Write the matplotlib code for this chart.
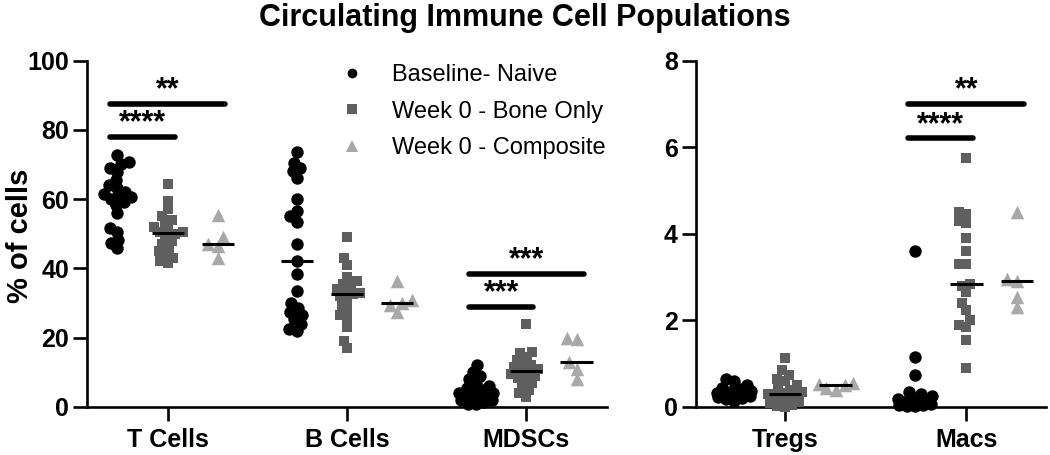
import matplotlib.pyplot as plt
from matplotlib.lines import Line2D
import numpy as np

plt.rcParams['font.family'] = ['Liberation Sans', 'DejaVu Sans']

# groups
groups = ['Baseline- Naive', 'Week 0 - Bone Only', 'Week 0 - Composite']
colors = ['black', '#5f5f5f', '#a8a8a8']
markers = ['o', 's', '^']
msizes = [80, 55, 95]
gap_px = [8, 7.5, 10]
offsets = [-0.28, 0.0, 0.28]

left_cats = ['T Cells', 'B Cells', 'MDSCs']
right_cats = ['Tregs', 'Macs']

# % of cells
tcells_naive = [72.7, 70.8, 70.0, 69.1, 67.9, 65.6, 64.1, 63.3, 62.0, 61.5, 61.0, 60.5,
                60.0, 59.2, 58.3, 56.0, 51.6, 50.4, 48.1, 47.2, 45.8]
tcells_bone = [64.5, 59.5, 57.0, 55.0, 54.0, 53.0, 52.0, 51.0, 50.5, 50.5, 50.0, 49.0,
               48.0, 47.0, 46.0, 45.0, 44.0, 43.0, 42.0, 41.5]
tcells_comp = [55.5, 49.0, 47.0, 46.5, 43.0]

bcells_naive = [73.5, 70.5, 69.0, 68.0, 66.0, 60.0, 56.5, 55.0, 53.5, 47.0, 42.0, 38.5,
                33.5, 30.0, 28.5, 27.5, 26.5, 25.5, 24.0, 22.5, 22.0]
bcells_bone = [49.0, 43.0, 41.0, 37.5, 36.5, 35.5, 35.0, 34.0, 33.5, 33.0, 32.5, 32.0,
               31.0, 29.5, 28.0, 26.5, 25.5, 23.0, 19.0, 17.0]
bcells_comp = [36.5, 31.0, 30.0, 29.5, 27.5]

mdsc_naive = [12.0, 10.0, 9.0, 8.0, 7.0, 6.0, 5.5, 5.0, 4.5, 4.0, 4.0, 3.5, 3.0, 3.0,
              2.5, 2.0, 2.0, 1.5, 1.0, 1.0]
mdsc_bone = [24.0, 16.0, 15.5, 14.5, 13.5, 12.5, 12.0, 11.5, 11.0, 10.5, 10.0, 9.5, 9.0,
             8.5, 8.0, 7.0, 6.0, 5.0, 4.0, 3.0]
mdsc_comp = [20.0, 19.5, 13.0, 11.0, 8.0]

tregs_naive = [0.65, 0.6, 0.5, 0.45, 0.42, 0.4, 0.38, 0.35, 0.33, 0.32, 0.3, 0.3, 0.28,
               0.25, 0.22, 0.2, 0.18, 0.15]
tregs_bone = [1.12, 0.85, 0.75, 0.65, 0.6, 0.5, 0.45, 0.4, 0.35, 0.32, 0.3, 0.28, 0.25,
              0.2, 0.15, 0.12, 0.1, 0.05, 0.02, 0.0]
tregs_comp = [0.55, 0.52, 0.5, 0.45, 0.4]

macs_naive = [3.6, 1.15, 0.75, 0.35, 0.3, 0.25, 0.2, 0.18, 0.15, 0.12, 0.1, 0.08, 0.06,
              0.05, 0.04, 0.03, 0.02]
macs_bone = [5.75, 4.5, 4.45, 4.3, 4.25, 3.9, 3.6, 3.3, 3.3, 2.85, 2.8, 2.65, 2.4, 2.25,
             2.0, 1.9, 1.85, 1.55, 0.9]
macs_comp = [4.5, 2.95, 2.9, 2.55, 2.3]

left_data = [[tcells_naive, tcells_bone, tcells_comp],
             [bcells_naive, bcells_bone, bcells_comp],
             [mdsc_naive, mdsc_bone, mdsc_comp]]
right_data = [[tregs_naive, tregs_bone, tregs_comp],
              [macs_naive, macs_bone, macs_comp]]

# significance: (category, group a, group b, height, label)
left_sig = [(0, 0, 1, 78.0, '****'), (0, 0, 2, 87.5, '**'),
            (2, 0, 1, 29.0, '***'), (2, 0, 2, 38.5, '***')]
right_sig = [(1, 0, 1, 6.2, '****'), (1, 0, 2, 7.0, '**')]

W, H = 1050, 455
fig = plt.figure(figsize=(W / 100, H / 100), dpi=100)
ax1 = fig.add_axes([87 / W, 1 - 407 / H, 520 / W, 346.5 / H])
ax2 = fig.add_axes([696 / W, 1 - 407 / H, 350 / W, 346.5 / H])


def swarm(vals, px_x, px_y, diam, maxw=17):
    # bounded beeswarm: points may overlap once the half-width limit is reached
    vals = np.asarray(vals, float)
    grid = np.arange(-maxw, maxw + 0.25, 0.5)
    grid = grid[np.argsort(np.abs(grid), kind='stable')]
    offs = np.zeros(len(vals))
    placed = []
    for i in np.argsort(vals):
        y = vals[i] * px_y
        if placed:
            P = np.array(placed)
            d = np.sqrt((grid[:, None] - P[:, 0]) ** 2 + (y - P[:, 1]) ** 2).min(axis=1)
            ok = d >= diam
            c = grid[ok][0] if ok.any() else grid[np.argmax(d)]
        else:
            c = 0.0
        offs[i] = c
        placed.append((c, y))
    return offs / px_x


def draw_panel(ax, cats, data, sig, ylim, yticks, xlim):
    ax.set_xlim(*xlim)
    ax.set_ylim(*ylim)
    pos = ax.get_position()
    px_x = pos.width * W / (xlim[1] - xlim[0])
    px_y = pos.height * H / (ylim[1] - ylim[0])
    for ci, cat_vals in enumerate(data):
        for gi, vals in enumerate(cat_vals):
            xc = ci + offsets[gi]
            xs = xc + swarm(vals, px_x, px_y, gap_px[gi])
            ax.scatter(xs, vals, s=msizes[gi], marker=markers[gi], color=colors[gi],
                       linewidths=0, clip_on=False, zorder=3)
            ax.hlines(np.median(vals), xc - 0.09, xc + 0.09, color='black', lw=2.2, zorder=4)
    for ci, ga, gb, yv, lab in sig:
        x0 = ci + offsets[ga] - 0.04
        x1 = ci + offsets[gb] + 0.04
        ax.plot([x0, x1], [yv, yv], color='black', lw=4, solid_capstyle='round',
                clip_on=False)
        ax.annotate(lab, ((x0 + x1) / 2, yv), xytext=(0, -1), textcoords='offset points',
                    ha='center', va='bottom', fontsize=22, fontweight='bold',
                    annotation_clip=False)
    ax.set_xticks(range(len(cats)))
    ax.set_xticklabels(cats, fontsize=18, fontweight='bold')
    ax.set_yticks(yticks)
    ax.set_yticklabels([str(t) for t in yticks], fontsize=18, fontweight='bold')
    for s in ['top', 'right']:
        ax.spines[s].set_visible(False)
    for s in ['left', 'bottom']:
        ax.spines[s].set_linewidth(1.9)
    ax.tick_params(axis='both', length=10, width=1.9, pad=3)
    ax.tick_params(axis='x', pad=5)


draw_panel(ax1, left_cats, left_data, left_sig, (0, 100), [0, 20, 40, 60, 80, 100],
           (-0.45, 2.45))
draw_panel(ax2, right_cats, right_data, right_sig, (0, 8), [0, 2, 4, 6, 8],
           (-0.49, 1.44))

fig.text(20 / W, 1 - 236 / H, '% of cells', rotation=90, ha='center', va='center',
         fontsize=21, fontweight='bold')

handles = [Line2D([], [], linestyle='none', marker=markers[i], color=colors[i],
                  markersize=[7, 7, 8][i], markeredgewidth=0) for i in range(3)]
fig.legend(handles, groups, loc='upper left', bbox_to_anchor=(340 / W, 1 - 64 / H),
           frameon=False, fontsize=17, handlelength=1.0, handletextpad=1.2,
           labelspacing=0.62, borderpad=0, borderaxespad=0)

fig.text(0.5, 1 - 18 / H, 'Circulating Immune Cell Populations', ha='center',
         va='center', fontsize=22, fontweight='bold')

fig.savefig('out.png', dpi=100)
